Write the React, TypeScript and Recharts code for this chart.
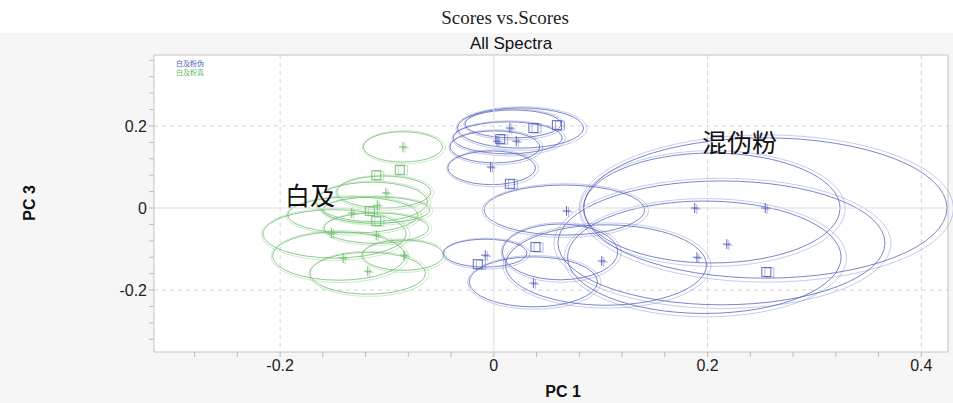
import React from 'react';
import {
  ScatterChart,
  Scatter,
  XAxis,
  YAxis,
  CartesianGrid,
  ReferenceArea,
  ReferenceLine,
  ReferenceDot,
} from 'recharts';

// PC1 / PC3 score domains
const xDomain: [number, number] = [-0.318, 0.425];
const yDomain: [number, number] = [-0.351, 0.373];

// every tick (major + minor), labels only on the majors
const xTicks = [-0.28, -0.24, -0.2, -0.16, -0.12, -0.08, -0.04, 0, 0.04, 0.08, 0.12, 0.16, 0.2, 0.24, 0.28, 0.32, 0.36, 0.4];
const yTicks = [-0.32, -0.28, -0.24, -0.2, -0.16, -0.12, -0.08, -0.04, 0, 0.04, 0.08, 0.12, 0.16, 0.2, 0.24, 0.28, 0.32, 0.36];
const xLabels = [-0.2, 0, 0.2, 0.4];
const yLabels = [-0.2, 0, 0.2];

// 白及粉真 (genuine) — sample centres, replicate points, confidence ellipses
const greenCenters = [
  { x: -0.085, y: 0.149 },
  { x: -0.101, y: 0.037 },
  { x: -0.109, y: 0.007 },
  { x: -0.133, y: -0.012 },
  { x: -0.152, y: -0.061 },
  { x: -0.110, y: -0.066 },
  { x: -0.141, y: -0.122 },
  { x: -0.084, y: -0.115 },
  { x: -0.118, y: -0.154 },
];
const greenPoints = [
  { x: -0.110, y: 0.080 },
  { x: -0.088, y: 0.093 },
  { x: -0.116, y: -0.007 },
  { x: -0.110, y: -0.032 },
];
const greenEllipses = [
  { x: -0.085, y: 0.149, rx: 0.037, ry: 0.037 },
  { x: -0.103, y: 0.039, rx: 0.044, ry: 0.039 },
  { x: -0.114, y: 0.015, rx: 0.052, ry: 0.048 },
  { x: -0.132, y: -0.017, rx: 0.061, ry: 0.044 },
  { x: -0.110, y: -0.049, rx: 0.049, ry: 0.037 },
  { x: -0.149, y: -0.063, rx: 0.067, ry: 0.059 },
  { x: -0.145, y: -0.117, rx: 0.062, ry: 0.059 },
  { x: -0.118, y: -0.159, rx: 0.054, ry: 0.051 },
  { x: -0.085, y: -0.115, rx: 0.038, ry: 0.037 },
  { x: -0.110, y: -0.005, rx: 0.05, ry: 0.032 },
];

// 白及粉伪 (adulterated)
const blueCenters = [
  { x: 0.015, y: 0.195 },
  { x: 0.021, y: 0.163 },
  { x: 0.003, y: 0.163 },
  { x: -0.003, y: 0.100 },
  { x: 0.068, y: -0.007 },
  { x: 0.188, y: 0.0 },
  { x: 0.254, y: 0.0 },
  { x: 0.218, y: -0.088 },
  { x: 0.190, y: -0.120 },
  { x: 0.101, y: -0.129 },
  { x: 0.037, y: -0.183 },
  { x: -0.008, y: -0.115 },
];
const bluePoints = [
  { x: 0.006, y: 0.168 },
  { x: 0.037, y: 0.195 },
  { x: 0.059, y: 0.202 },
  { x: 0.015, y: 0.059 },
  { x: 0.039, y: -0.095 },
  { x: -0.015, y: -0.137 },
  { x: 0.255, y: -0.156 },
];
const blueEllipses = [
  { x: 0.025, y: 0.195, rx: 0.059, ry: 0.049 },
  { x: 0.013, y: 0.171, rx: 0.051, ry: 0.039 },
  { x: 0.001, y: 0.149, rx: 0.042, ry: 0.039 },
  { x: -0.002, y: 0.098, rx: 0.041, ry: 0.041 },
  { x: 0.018, y: 0.205, rx: 0.045, ry: 0.034 },
  { x: 0.066, y: -0.005, rx: 0.075, ry: 0.061 },
  { x: -0.008, y: -0.110, rx: 0.039, ry: 0.034 },
  { x: 0.037, y: -0.180, rx: 0.060, ry: 0.061 },
  { x: 0.062, y: -0.107, rx: 0.054, ry: 0.068 },
  { x: 0.204, y: 0.0, rx: 0.120, ry: 0.134 },
  { x: 0.254, y: 0.0, rx: 0.170, ry: 0.171 },
  { x: 0.197, y: -0.120, rx: 0.128, ry: 0.137 },
  { x: 0.105, y: -0.139, rx: 0.094, ry: 0.098 },
  { x: 0.213, y: -0.085, rx: 0.153, ry: 0.151 },
];

const BLUE = '#4f5db9';
const GREEN = '#66ba66';

// ellipse inscribed in the reference-area rect, drawn as a double outline
const makeEllipse = (color: string) => (p: any) => {
  const { x, y, width, height } = p;
  if (x == null || width == null) return <g />;
  const cx = x + width / 2;
  const cy = y + height / 2;
  const rx = width / 2;
  const ry = height / 2;
  return (
    <g fill="none" stroke={color}>
      <ellipse cx={cx} cy={cy} rx={rx} ry={ry} strokeWidth={1} strokeOpacity={0.75} />
      <ellipse cx={cx + 1} cy={cy + 0.5} rx={rx * 1.025 + 1} ry={ry * 1.035 + 1} strokeWidth={0.8} strokeOpacity={0.4} />
    </g>
  );
};

const makeCross = (color: string) => (p: any) => {
  const { cx, cy } = p;
  return (
    <g stroke={color} strokeWidth={1}>
      <path d={`M${cx - 4},${cy}H${cx + 4}M${cx},${cy - 5}V${cy + 5}`} strokeOpacity={0.9} />
      <path d={`M${cx - 2},${cy + 1}H${cx + 6}M${cx + 2},${cy - 4}V${cy + 6}`} strokeOpacity={0.45} />
    </g>
  );
};

const makeSquare = (color: string) => (p: any) => {
  const { cx, cy } = p;
  return (
    <g fill="none" stroke={color} strokeWidth={1}>
      <rect x={cx - 4.5} y={cy - 4.5} width={9} height={9} strokeOpacity={0.9} />
      <rect x={cx - 1.5} y={cy - 4} width={9} height={9} strokeOpacity={0.45} />
    </g>
  );
};

const tickStyle = { fontSize: 16, fill: '#222', fontFamily: '"Liberation Sans", Arial, sans-serif' };

const XTick = (p: any) => {
  const v = p.payload.value;
  if (!xLabels.some((l) => Math.abs(l - v) < 1e-9)) return <g />;
  return (
    <text x={p.x} y={p.y} dy={12} textAnchor="middle" {...tickStyle}>
      {String(Math.round(v * 10) / 10)}
    </text>
  );
};

const YTick = (p: any) => {
  const v = p.payload.value;
  if (!yLabels.some((l) => Math.abs(l - v) < 1e-9)) return <g />;
  return (
    <text x={p.x} y={p.y} dy={6} textAnchor="end" {...tickStyle}>
      {String(Math.round(v * 10) / 10)}
    </text>
  );
};

const cjk = '"Noto Sans CJK SC", sans-serif';

export default function App() {
  return (
    <div style={{ position: 'absolute', left: 0, top: 0, width: 953, height: 403, background: '#fff', overflow: 'hidden' }}>
      <div
        style={{
          position: 'absolute', left: 0, top: 7, width: 1010, textAlign: 'center',
          fontFamily: '"Liberation Serif", serif', fontSize: 19, color: '#222',
        }}
      >
        Scores vs.Scores
      </div>
      <div style={{ position: 'absolute', left: 0, top: 33, width: 953, height: 370, background: '#f6f6f6' }} />
      <div
        style={{
          position: 'absolute', left: 0, top: 34, width: 1022, textAlign: 'center',
          fontFamily: '"Liberation Sans", Arial, sans-serif', fontSize: 17, color: '#111',
        }}
      >
        All Spectra
      </div>
      <div style={{ position: 'absolute', top: 33, left: 0 }}>
        <ScatterChart width={953} height={370} margin={{ top: 22, right: 5, bottom: 3, left: 114 }}>
          <CartesianGrid
            fill="#fff"
            stroke="#d4d4d4"
            strokeDasharray="4 4"
            horizontalValues={[0.2, -0.2]}
            verticalValues={[-0.2, 0.2, 0.4]}
          />
          <XAxis
            type="number"
            dataKey="x"
            domain={xDomain}
            ticks={xTicks}
            allowDataOverflow
            height={48}
            tickSize={5}
            axisLine={false}
            tickLine={{ stroke: '#bbb' }}
            tick={<XTick />}
            interval={0}
          />
          <YAxis
            type="number"
            dataKey="y"
            domain={yDomain}
            ticks={yTicks}
            allowDataOverflow
            width={40}
            tickSize={5}
            axisLine={false}
            tickLine={{ stroke: '#bbb' }}
            tick={<YTick />}
            interval={0}
          />
          <ReferenceLine x={0} stroke="#dcdcdc" />
          <ReferenceLine y={0} stroke="#dcdcdc" />
          <ReferenceArea x1={xDomain[0]} x2={xDomain[1]} y1={yDomain[0]} y2={yDomain[1]} fill="none" stroke="#c4c4c4" />
          {greenEllipses.map((e, i) => (
            <ReferenceArea
              key={`g${i}`}
              x1={e.x - e.rx}
              x2={e.x + e.rx}
              y1={e.y - e.ry}
              y2={e.y + e.ry}
              ifOverflow="hidden"
              shape={makeEllipse(GREEN)}
            />
          ))}
          {blueEllipses.map((e, i) => (
            <ReferenceArea
              key={`b${i}`}
              x1={e.x - e.rx}
              x2={e.x + e.rx}
              y1={e.y - e.ry}
              y2={e.y + e.ry}
              ifOverflow="hidden"
              shape={makeEllipse(BLUE)}
            />
          ))}
          <Scatter data={greenCenters} shape={makeCross(GREEN)} isAnimationActive={false} />
          <Scatter data={greenPoints} shape={makeSquare(GREEN)} isAnimationActive={false} />
          <Scatter data={blueCenters} shape={makeCross(BLUE)} isAnimationActive={false} />
          <Scatter data={bluePoints} shape={makeSquare(BLUE)} isAnimationActive={false} />
          <ReferenceDot
            x={0.230}
            y={0.159}
            r={0}
            fill="none"
            stroke="none"
            label={{ value: '混伪粉', position: 'center', fontSize: 25, fill: '#111', fontFamily: cjk }}
          />
          <ReferenceDot
            x={-0.172}
            y={0.029}
            r={0}
            fill="none"
            stroke="none"
            label={{ value: '白及', position: 'center', fontSize: 25, fill: '#111', fontFamily: cjk }}
          />
        </ScatterChart>
      </div>
      <div style={{ position: 'absolute', left: 176, top: 59, fontFamily: cjk, fontSize: 7, lineHeight: '9px' }}>
        <div style={{ color: BLUE }}>白及粉伪</div>
        <div style={{ color: GREEN }}>白及粉真</div>
      </div>
      <div
        style={{
          position: 'absolute', left: 563, top: 383, transform: 'translateX(-50%)',
          fontFamily: '"Liberation Sans", Arial, sans-serif', fontWeight: 'bold', fontSize: 16, color: '#111',
        }}
      >
        PC 1
      </div>
      <div
        style={{
          position: 'absolute', left: 30, top: 203, transform: 'translate(-50%, -50%) rotate(-90deg)',
          fontFamily: '"Liberation Sans", Arial, sans-serif', fontWeight: 'bold', fontSize: 16, color: '#111',
          whiteSpace: 'nowrap',
        }}
      >
        PC 3
      </div>
    </div>
  );
}
